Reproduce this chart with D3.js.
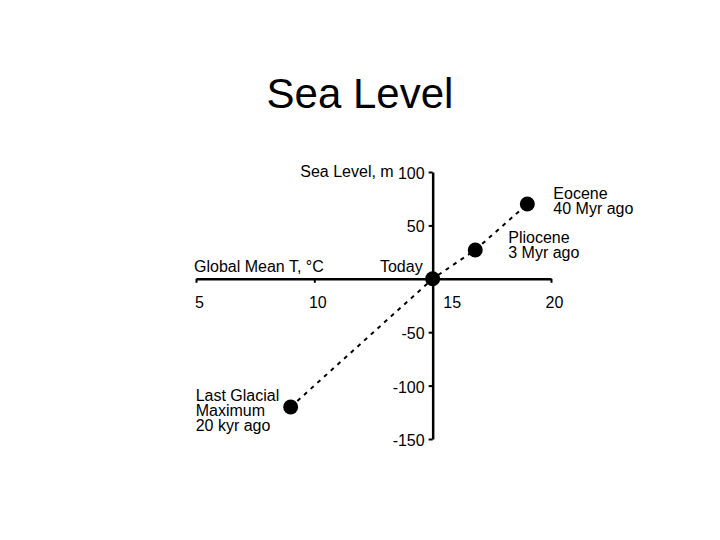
<!DOCTYPE html>
<html>
<head>
<meta charset="utf-8">
<script src="https://cdn.jsdelivr.net/npm/d3@7/dist/d3.min.js"></script>
<style>
  body { margin: 0; background: #fff; }
  svg text { font-family: "Liberation Sans", Arial, sans-serif; fill: #000; }
</style>
</head>
<body>
<svg id="chart" width="720" height="540"></svg>
<script>
// data
var events = ["Last Glacial Maximum", "Today", "Pliocene", "Eocene"];
var temps = [9, 15, 16.8, 19];          // global mean T, °C
var seaLevels = [-120, 0, 27, 70];      // sea level, m
var xTicks = [5, 10, 15, 20];
var yTicks = [-150, -100, -50, 50, 100];
var eventLabels = [
    ["Last Glacial", "Maximum", "20 kyr ago"],
    ["Today"],
    ["Pliocene", "3 Myr ago"],
    ["Eocene", "40 Myr ago"]
];

var svg = d3.select("#chart");

var x = d3.scaleLinear().domain([5, 20]).range([196, 551]);
var y = d3.scaleLinear().domain([-150, 100]).range([439, 172]);

// title
svg.append("text")
    .attr("x", 360).attr("y", 108)
    .attr("text-anchor", "middle")
    .style("font-size", "42px")
    .text("Sea Level");

// x axis, crossing at sea level 0
var xAxis = svg.append("g")
    .attr("transform", "translate(0," + y(0) + ")")
    .call(d3.axisBottom(x).tickValues(xTicks).tickFormat(String)
        .tickSizeInner(4).tickSizeOuter(0).tickPadding(14));
xAxis.selectAll("text")
    .style("font-size", "16px")
    .attr("dx", function (d) { return d === 15 ? 19 : 3; });

// y axis, crossing at T = 15 (plain hyphen for negatives, as in the slide)
var yAxis = svg.append("g")
    .attr("transform", "translate(" + x(15) + ",0)")
    .call(d3.axisLeft(y).tickValues(yTicks).tickFormat(String)
        .tickSizeInner(4).tickSizeOuter(0).tickPadding(4));
yAxis.selectAll("text").style("font-size", "16px").attr("dy", "0.4em");

svg.selectAll(".domain").attr("stroke", "#000").attr("stroke-width", 2.5);
svg.selectAll(".tick line").attr("stroke", "#000").attr("stroke-width", 2);
svg.selectAll(".tick text").attr("font-family", null);

// axis titles
svg.append("text")
    .attr("x", x(15) - 39).attr("y", y(100) + 5)
    .attr("text-anchor", "end")
    .style("font-size", "16px")
    .text("Sea Level, m");
svg.append("text")
    .attr("x", x(5) - 2).attr("y", y(0) - 7)
    .style("font-size", "16px")
    .text("Global Mean T, °C");

// dashed connecting line
var pts = temps.map(function (t, i) { return [x(t), y(seaLevels[i])]; });
svg.append("path")
    .attr("d", d3.line()(pts))
    .attr("fill", "none")
    .attr("stroke", "#000")
    .attr("stroke-width", 2)
    .attr("stroke-dasharray", "4,5");

// points
svg.selectAll("circle.pt")
    .data(pts)
    .enter().append("circle")
    .attr("class", "pt")
    .attr("cx", function (d) { return d[0]; })
    .attr("cy", function (d) { return d[1]; })
    .attr("r", 7.5)
    .attr("fill", "#000");

// point labels: [dx, dy of first baseline, anchor]
var labelPos = [[-95, -6, "start"], [-10, -7, "end"], [33, -7, "start"], [26, -5, "start"]];
events.forEach(function (e, i) {
    var t = svg.append("text")
        .attr("x", pts[i][0] + labelPos[i][0])
        .attr("y", pts[i][1] + labelPos[i][1])
        .attr("text-anchor", labelPos[i][2])
        .style("font-size", "16px");
    eventLabels[i].forEach(function (line, j) {
        t.append("tspan")
            .attr("x", pts[i][0] + labelPos[i][0])
            .attr("dy", j === 0 ? 0 : 15)
            .text(line);
    });
});
</script>
</body>
</html>
